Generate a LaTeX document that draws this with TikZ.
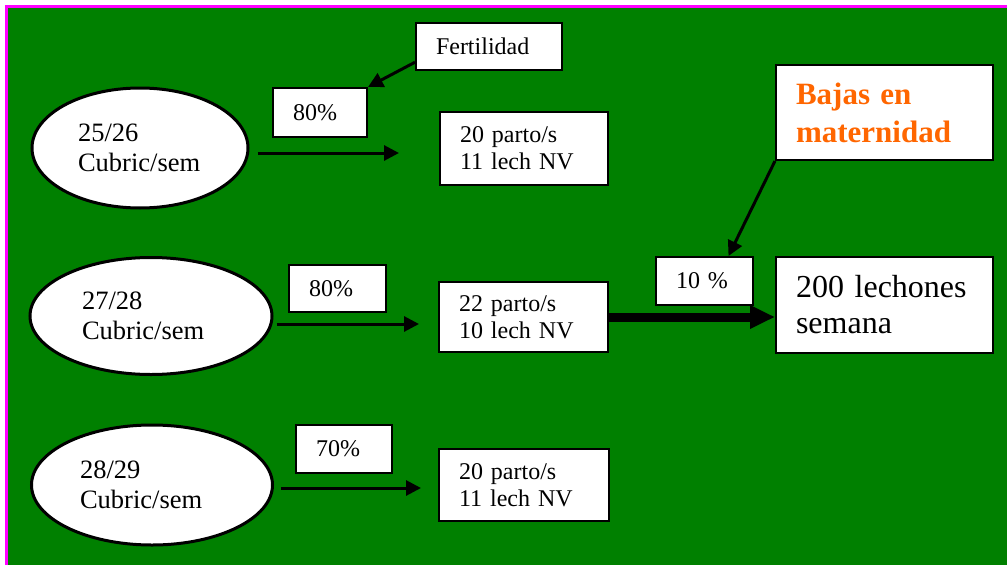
\documentclass[tikz,border=0pt]{standalone}
\usepackage{fontspec}
\setmainfont{Liberation Serif}
\usetikzlibrary{arrows.meta,shapes.geometric}
\definecolor{fondo}{RGB}{0,128,0}
\definecolor{marco}{RGB}{255,0,255}
\definecolor{naranja}{RGB}{255,102,0}
\begin{document}
\begin{tikzpicture}[x=1pt,y=-1pt,
  cubric/.style={ellipse,draw,fill=white,line width=3pt,inner sep=0pt,align=left,font=\fontsize{26.5}{30}\selectfont},
  caja/.style={rectangle,draw,fill=white,line width=2pt,inner xsep=20pt,inner ysep=0pt,align=left,font=\fontsize{24}{27}\selectfont},
  flecha/.style={line width=3pt,-{Triangle[length=15pt,width=15pt]}}]
\useasboundingbox (0,0) rectangle (1007,565);
\fill[white] (0,0) rectangle (1007,565);
\fill[fondo] (8,8) rectangle (1007,565);
\draw[marco,line width=3pt] (6.5,565) -- (6.5,6.5) -- (1007,6.5);
% cubriciones
\node[cubric,minimum width=216pt,minimum height=120pt,text width=124pt] (c1) at (140,148) {25/26\\Cubric/sem};
\node[cubric,minimum width=242pt,minimum height=117pt,text width=138pt] (c2) at (151,316) {27/28\\Cubric/sem};
\node[cubric,minimum width=241pt,minimum height=120pt,text width=144pt] (c3) at (152,485) {28/29\\Cubric/sem};
% porcentajes
\node[caja,minimum height=47pt,text width=106pt] (fert) at (489,46.5) {Fertilidad};
\node[caja,minimum height=49pt,text width=54pt] (pc1) at (320,112.5) {80\%};
\node[caja,minimum height=47pt,text width=57pt] (pc2) at (337.5,288.5) {80\%};
\node[caja,minimum height=48pt,text width=56pt] (pc3) at (344,449) {70\%};
\node[caja,minimum height=48pt,text width=57pt] (pc4) at (704.5,281) {10 \%};
% partos
\node[caja,minimum height=73pt,text width=128pt] (p1) at (524,148.5) {20 parto/s\\11 lech NV};
\node[caja,minimum height=70pt,text width=129pt] (p2) at (523.5,317) {22 parto/s\\10 lech NV};
\node[caja,minimum height=72pt,text width=130pt] (p3) at (524,485) {20 parto/s\\11 lech NV};
% resultado
\node[caja,minimum height=95pt,text width=177pt,text=naranja,font=\fontsize{31}{38}\selectfont\bfseries] (bajas) at (884.5,112.5) {Bajas en\\maternidad};
\node[caja,minimum height=96pt,text width=177pt,font=\fontsize{32}{36}\selectfont] (lech) at (884.5,305) {200 lechones\\semana};
% flechas
\draw[flecha,shorten >=40pt] (c1.east) ++(8,5) coordinate (s1) -- (s1 -| p1.west);
\draw[flecha,shorten >=19pt] (c2.east) ++(3,8) coordinate (s2) -- (s2 -| p2.west);
\draw[flecha,shorten >=17pt] (c3.east) ++(7,3) coordinate (s3) -- (s3 -| p3.west);
\draw[flecha] (fert.192) -- (pc1.north east);
\draw[flecha] (bajas.south west) -- ([xshift=24pt]pc4.north);
\draw[line width=9pt,-{Triangle[length=25pt,width=22pt]}] (p2.east) -- (p2.east -| lech.west);
\end{tikzpicture}
\end{document}
